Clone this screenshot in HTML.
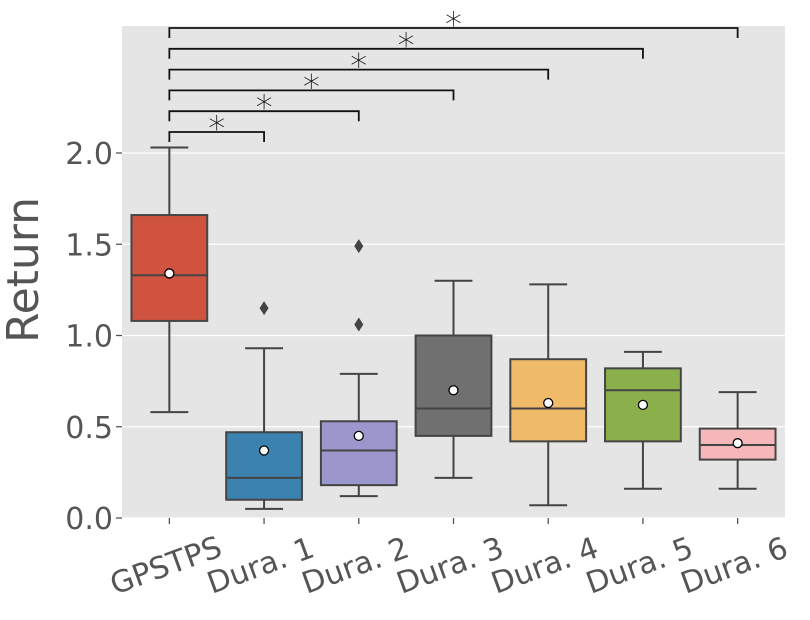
<!DOCTYPE html>
<html><head><meta charset="utf-8">
<style>
body{margin:0;background:#fff;}
svg text{font-family:"DejaVu Sans","Liberation Sans",sans-serif;}
</style></head>
<body>
<svg id="chart" width="810" height="615" viewBox="0 0 810 615">
<rect x="122" y="26" width="663" height="492" fill="#e5e5e5"/>
<g id="grid"></g><g id="boxes"></g><g id="brackets"></g><g id="axes"></g>
<text x="38" y="270" font-size="44" fill="#555" text-anchor="middle" transform="rotate(-90 38 270)">Return</text>
</svg>
<script>
const categories=["GPSTPS","Dura. 1","Dura. 2","Dura. 3","Dura. 4","Dura. 5","Dura. 6"];
const whiskerLow=[0.58,0.05,0.12,0.22,0.07,0.16,0.16];
const q1=[1.08,0.10,0.18,0.45,0.42,0.42,0.32];
const medians=[1.33,0.22,0.37,0.60,0.60,0.70,0.40];
const q3=[1.66,0.47,0.53,1.00,0.87,0.82,0.49];
const whiskerHigh=[2.03,0.93,0.79,1.30,1.28,0.91,0.69];
const means=[1.34,0.37,0.45,0.70,0.63,0.62,0.41];
const outliers=[[],[1.15],[1.06,1.49],[],[],[],[]];
const yTicks=[0,0.5,1,1.5,2];
const yTickLabels=["0.0","0.5","1.0","1.5","2.0"];
const colors=["#d0533f","#3b82b0","#9b97cc","#707070","#efbb68","#8bb04b","#f5b7ba"];
const sigLabels=["*","*","*","*","*","*"];

const NS="http://www.w3.org/2000/svg";
const X0=122,W=663,Y0=518,SCALE=182.5;
const band=W/categories.length;
const xs=i=>X0+band*(i+0.5);
const ys=v=>Y0-v*SCALE;
function mk(parent,tag,attrs){const e=document.createElementNS(NS,tag);for(const k in attrs)e.setAttribute(k,attrs[k]);parent.appendChild(e);return e;}
const grid=document.getElementById('grid'),boxes=document.getElementById('boxes'),br=document.getElementById('brackets'),axes=document.getElementById('axes');
yTicks.forEach((t,i)=>{
  const l=mk(grid,'line',{x1:X0,x2:X0+W,y1:ys(t),y2:ys(t),stroke:'#fff','stroke-width':1.3});
  
  
  const tk=mk(axes,'line',{x1:X0-6,x2:X0,y1:ys(t),y2:ys(t),stroke:'#555','stroke-width':1.3});
  
  
  const tx=mk(axes,'text',{x:X0-9,y:ys(t)+11,'font-size':30,fill:'#555','text-anchor':'end'});
  tx.textContent=yTickLabels[i];
  
  
});
const bw=band*0.8,st='#444',sw=2;
categories.forEach((c,i)=>{
  const g=mk(boxes,'g',{});
  
  
  const x=xs(i);
  mk(g,'line',{x1:x,x2:x,y1:ys(whiskerLow[i]),y2:ys(q1[i]),stroke:st,'stroke-width':sw});
  mk(g,'line',{x1:x,x2:x,y1:ys(q3[i]),y2:ys(whiskerHigh[i]),stroke:st,'stroke-width':sw});
  mk(g,'line',{x1:x-bw/4,x2:x+bw/4,y1:ys(whiskerLow[i]),y2:ys(whiskerLow[i]),stroke:st,'stroke-width':sw});
  mk(g,'line',{x1:x-bw/4,x2:x+bw/4,y1:ys(whiskerHigh[i]),y2:ys(whiskerHigh[i]),stroke:st,'stroke-width':sw});
  mk(g,'rect',{x:x-bw/2,y:ys(q3[i]),width:bw,height:ys(q1[i])-ys(q3[i]),fill:colors[i],stroke:st,'stroke-width':sw});
  mk(g,'line',{x1:x-bw/2,x2:x+bw/2,y1:ys(medians[i]),y2:ys(medians[i]),stroke:st,'stroke-width':sw});
  outliers[i].forEach(o=>{const y=ys(o);mk(g,'polygon',{points:`${x},${y-7} ${x+4.5},${y} ${x},${y+7} ${x-4.5},${y}`,fill:'#444'});});
  mk(g,'circle',{cx:x,cy:ys(means[i]),r:4.5,fill:'#fff',stroke:'#000','stroke-width':1.3});
  const tk=mk(axes,'line',{x1:x,x2:x,y1:Y0,y2:Y0+6,stroke:'#555','stroke-width':1.3});
  
  
  const tx=mk(axes,'text',{x:x,y:Y0+57,'font-size':30,fill:'#555','text-anchor':'middle',transform:`rotate(-20 ${x} ${Y0+57})`});
  tx.textContent=c;
  
  
});
sigLabels.forEach((s,k)=>{
  const j=k+1,y=132-k*20.8,x1=xs(0),x2=xs(j);
  const g=mk(br,'g',{});
  
  
  mk(g,'polyline',{points:`${x1},${y+10} ${x1},${y} ${x2},${y} ${x2},${y+10}`,fill:'none',stroke:'#111','stroke-width':1.8});
  const t=mk(g,'text',{x:(x1+x2)/2,y:y+8,'font-size':34,fill:'#111','text-anchor':'middle','font-weight':'300'});
  t.textContent=s;
});
</script>
</body></html>
